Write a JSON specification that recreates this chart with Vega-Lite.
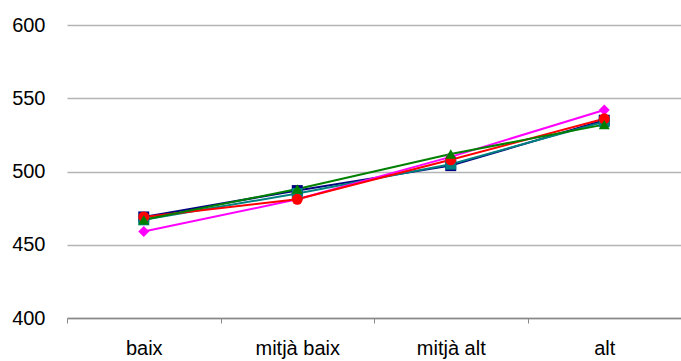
{
  "$schema": "https://vega.github.io/schema/vega-lite/v6.json",
  "width": 614,
  "height": 293,
  "autosize": {"type": "none"},
  "padding": {"left": 67, "top": 25, "right": 0, "bottom": 43},
  "background": "white",
  "config": {
    "view": {"stroke": null},
    "font": "Liberation Sans"
  },
  "data": {
    "values": [
      {"level": "baix", "series": "s1", "order": 1, "value": 469},
      {"level": "mitjà baix", "series": "s1", "order": 1, "value": 487},
      {"level": "mitjà alt", "series": "s1", "order": 1, "value": 504},
      {"level": "alt", "series": "s1", "order": 1, "value": 535},
      {"level": "baix", "series": "s2", "order": 2, "value": 467},
      {"level": "mitjà baix", "series": "s2", "order": 2, "value": 485},
      {"level": "mitjà alt", "series": "s2", "order": 2, "value": 505},
      {"level": "alt", "series": "s2", "order": 2, "value": 534},
      {"level": "baix", "series": "s3", "order": 3, "value": 459},
      {"level": "mitjà baix", "series": "s3", "order": 3, "value": 481},
      {"level": "mitjà alt", "series": "s3", "order": 3, "value": 510},
      {"level": "alt", "series": "s3", "order": 3, "value": 542},
      {"level": "baix", "series": "s4", "order": 4, "value": 469},
      {"level": "mitjà baix", "series": "s4", "order": 4, "value": 481},
      {"level": "mitjà alt", "series": "s4", "order": 4, "value": 508},
      {"level": "alt", "series": "s4", "order": 4, "value": 536},
      {"level": "baix", "series": "s5", "order": 5, "value": 467},
      {"level": "mitjà baix", "series": "s5", "order": 5, "value": 488},
      {"level": "mitjà alt", "series": "s5", "order": 5, "value": 512},
      {"level": "alt", "series": "s5", "order": 5, "value": 532}
    ]
  },
  "encoding": {
    "x": {
      "field": "level",
      "type": "ordinal",
      "sort": ["baix", "mitjà baix", "mitjà alt", "alt"],
      "bandPosition": 0.5,
      "scale": {"type": "band", "paddingInner": 0, "paddingOuter": 0},
      "axis": {
        "title": null,
        "labelAngle": 0,
        "labelFontSize": 20,
        "labelColor": "#000000",
        "labelFont": "Liberation Sans",
        "labelPadding": 15,
        "labelBaseline": "top",
        "tickBand": "extent",
        "tickSize": 5,
        "tickColor": "#888888",
        "domainColor": "#888888",
        "domainWidth": 1.5,
        "grid": false
      }
    },
    "y": {
      "field": "value",
      "type": "quantitative",
      "scale": {"domain": [400, 600], "nice": false, "zero": false},
      "axis": {
        "title": null,
        "values": [400, 450, 500, 550, 600],
        "labelFontSize": 20,
        "labelColor": "#000000",
        "labelFont": "Liberation Sans",
        "labelPadding": 22,
        "ticks": false,
        "domain": false,
        "grid": true,
        "gridColor": "#b4b4b4",
        "gridWidth": 1.5
      }
    },
    "color": {
      "field": "series",
      "type": "nominal",
      "scale": {"domain": ["s1", "s2", "s3", "s4", "s5"], "range": ["#000080", "#008080", "#ff00ff", "#ff0000", "#008000"]},
      "legend": null
    }
  },
  "layer": [
    {
      "mark": {"type": "line", "strokeWidth": 2},
      "encoding": {"order": {"field": "order"}}
    },
    {
      "mark": {"type": "point", "filled": true, "opacity": 1, "size": 120},
      "encoding": {
        "shape": {
          "field": "series",
          "type": "nominal",
          "scale": {"domain": ["s1", "s2", "s3", "s4", "s5"], "range": ["square", "square", "diamond", "circle", "triangle-up"]},
          "legend": null
        },
        "order": {"field": "order"}
      }
    }
  ]
}
